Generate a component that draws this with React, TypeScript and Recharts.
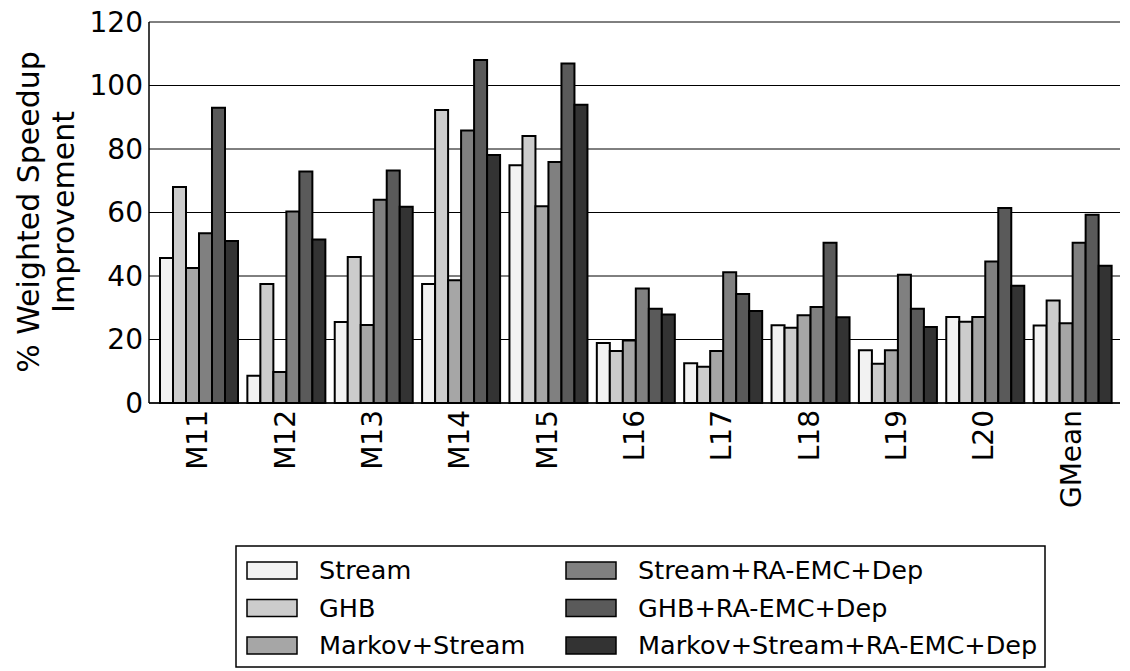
import React from "react";
import {
  BarChart,
  Bar,
  XAxis,
  YAxis,
  CartesianGrid,
} from "recharts";

const categories = ["M11", "M12", "M13", "M14", "M15", "L16", "L17", "L18", "L19", "L20", "GMean"];

const stream = [45.7, 8.6, 25.5, 37.5, 74.9, 18.9, 12.5, 24.5, 16.6, 27.1, 24.4];
const ghb = [68, 37.5, 46, 92.3, 84.1, 16.4, 11.4, 23.7, 12.4, 25.6, 32.3];
const markovStream = [42.5, 9.8, 24.6, 38.7, 62, 19.7, 16.4, 27.6, 16.6, 27.1, 25.1];
const streamRa = [53.5, 60.3, 64, 85.8, 75.9, 36.1, 41.2, 30.2, 40.4, 44.6, 50.5];
const ghbRa = [93, 72.9, 73.2, 108, 106.9, 29.7, 34.3, 50.5, 29.7, 61.4, 59.3];
const markovStreamRa = [51, 51.5, 61.8, 78.1, 93.9, 27.9, 29, 27, 23.9, 36.9, 43.2];

const yTicks = [0, 20, 40, 60, 80, 100, 120];

const seriesNames = [
  "Stream",
  "GHB",
  "Markov+Stream",
  "Stream+RA-EMC+Dep",
  "GHB+RA-EMC+Dep",
  "Markov+Stream+RA-EMC+Dep",
];
const seriesKeys = ["s0", "s1", "s2", "s3", "s4", "s5"];
const seriesColors = ["#f2f2f2", "#cccccc", "#a6a6a6", "#808080", "#5a5a5a", "#333333"];
const seriesValues = [stream, ghb, markovStream, streamRa, ghbRa, markovStreamRa];

const data = categories.map((name, i) => {
  const row: Record<string, string | number> = { name };
  seriesKeys.forEach((k, j) => {
    row[k] = seriesValues[j][i];
  });
  return row;
});

const FONT = "DejaVu Sans";

function XTick(props: any) {
  const { x, y, payload } = props;
  return (
    <text
      x={x}
      y={y}
      transform={`rotate(-90, ${x}, ${y})`}
      textAnchor="end"
      dominantBaseline="central"
      fontFamily={FONT}
      fontSize={28}
      fill="#000"
    >
      {payload.value}
    </text>
  );
}

function YTick(props: any) {
  const { x, y, payload } = props;
  return (
    <text
      x={x}
      y={y}
      textAnchor="end"
      dominantBaseline="central"
      fontFamily={FONT}
      fontSize={28}
      fill="#000"
    >
      {payload.value}
    </text>
  );
}

function YLabel() {
  return (
    <g>
      <text
        transform="rotate(-90, 28, 212)"
        x={28}
        y={212}
        textAnchor="middle"
        dominantBaseline="central"
        fontFamily={FONT}
        fontSize={30}
        fill="#000"
      >
        % Weighted Speedup
      </text>
      <text
        transform="rotate(-90, 63, 212)"
        x={63}
        y={212}
        textAnchor="middle"
        dominantBaseline="central"
        fontFamily={FONT}
        fontSize={30}
        fill="#000"
      >
        Improvement
      </text>
    </g>
  );
}

function LegendBox() {
  return (
    <svg width={812} height={124} style={{ display: "block" }}>
      <rect x={1} y={1} width={809} height={121} fill="#fff" stroke="#000" strokeWidth={1.5} />
      {seriesNames.map((name, i) => {
        const col = Math.floor(i / 3);
        const row = i % 3;
        const sx = col === 0 ? 12 : 331;
        const cy = 25 + row * 37.5;
        return (
          <g key={name}>
            <rect
              x={sx}
              y={cy - 8}
              width={50}
              height={17}
              fill={seriesColors[i]}
              stroke="#000"
              strokeWidth={1.5}
            />
            <text
              x={sx + 72}
              y={cy}
              dominantBaseline="central"
              fontFamily={FONT}
              fontSize={25.5}
              fill="#000"
            >
              {name}
            </text>
          </g>
        );
      })}
    </svg>
  );
}

export default function App() {
  return (
    <div style={{ position: "absolute", left: 0, top: 0, width: 1130, height: 671, background: "#fff" }}>
      <BarChart
        width={1130}
        height={671}
        data={data}
        margin={{ top: 22, right: 10, left: 0, bottom: 0 }}
        barCategoryGap={6}
        barGap={0}
      >
        <CartesianGrid vertical={false} stroke="#000" strokeWidth={1} />
        <XAxis
          dataKey="name"
          height={268}
          interval={0}
          padding={{ left: 5, right: 5 }}
          axisLine={{ stroke: "#000", strokeWidth: 1.5 }}
          tickLine={false}
          tickSize={0}
          tickMargin={7}
          tick={<XTick />}
        />
        <YAxis
          width={149}
          domain={[0, 120]}
          ticks={yTicks}
          interval={0}
          axisLine={{ stroke: "#000", strokeWidth: 1.5 }}
          tickLine={false}
          tickSize={0}
          tickMargin={6}
          tick={<YTick />}
          label={() => <YLabel />}
        />
        {seriesKeys.map((k, i) => (
          <Bar
            key={k}
            dataKey={k}
            name={seriesNames[i]}
            fill={seriesColors[i]}
            stroke="#000"
            strokeWidth={2}
            isAnimationActive={false}
          />
        ))}
      </BarChart>
      <div style={{ position: "absolute", left: 235, top: 545 }}>
        <LegendBox />
      </div>
    </div>
  );
}
